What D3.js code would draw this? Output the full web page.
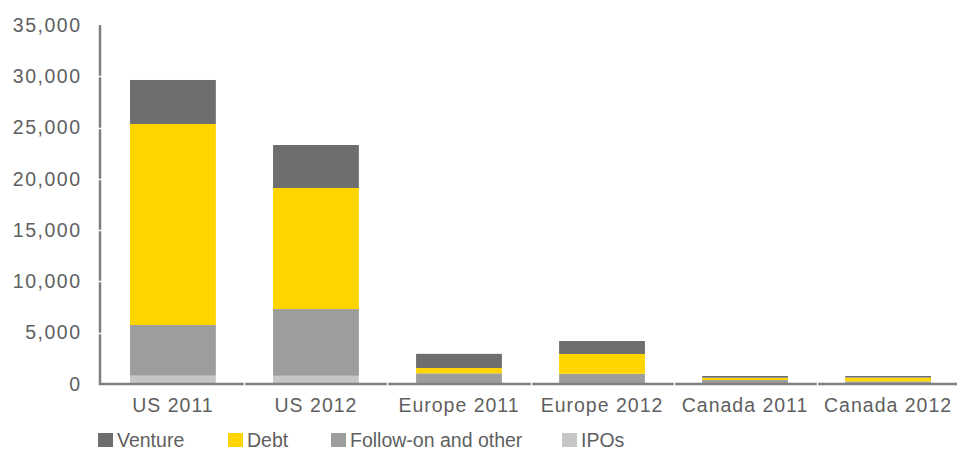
<!DOCTYPE html>
<html>
<head>
<meta charset="utf-8">
<script src="https://cdn.jsdelivr.net/npm/d3@7/dist/d3.min.js"></script>
<style>
  html, body { margin: 0; padding: 0; background: #fff; }
  svg { display: block; }
  text { font-family: "Liberation Sans", Arial, sans-serif; fill: #5f5f5f; font-size: 19.5px; }
</style>
</head>
<body>
<svg id="chart" width="957" height="450"></svg>
<script>
// Capital raised by region and year (US$ millions)
const categories = ["US 2011", "US 2012", "Europe 2011", "Europe 2012", "Canada 2011", "Canada 2012"];
const ipos      = [810, 800, 50, 40, 20, 20];
const followOn  = [4940, 6510, 990, 960, 370, 230];
const debt      = [19600, 11800, 520, 1925, 220, 380];
const venture   = [4290, 4190, 1380, 1265, 170, 150];
const yTicks    = [0, 5000, 10000, 15000, 20000, 25000, 30000, 35000];

const seriesNames  = ["IPOs", "Follow-on and other", "Debt", "Venture"];
const seriesColors = { "Venture": "#6e6e6e", "Debt": "#ffd500", "Follow-on and other": "#9d9d9c", "IPOs": "#c6c6c6" };
const legendOrder  = ["Venture", "Debt", "Follow-on and other", "IPOs"];

const rows = categories.map((c, i) => ({
  category: c,
  "IPOs": ipos[i],
  "Follow-on and other": followOn[i],
  "Debt": debt[i],
  "Venture": venture[i]
}));

const svg = d3.select("#chart");
const plotLeft = 100, plotRight = 958, plotTop = 25, plotBottom = 384;

const x = d3.scaleBand().domain(categories).range([plotLeft, plotRight + 3])
  .paddingInner(0.4).paddingOuter(0.21);
const y = d3.scaleLinear().domain([0, 35000]).range([plotBottom, plotTop]);

const stacked = d3.stack().keys(seriesNames)(rows);

svg.append("g")
  .selectAll("g")
  .data(stacked)
  .join("g")
  .attr("fill", d => seriesColors[d.key])
  .selectAll("rect")
  .data(d => d)
  .join("rect")
  .attr("x", d => x(d.data.category))
  .attr("width", x.bandwidth())
  .attr("y", d => y(d[1]))
  .attr("height", d => y(d[0]) - y(d[1]));

// Y axis: labels only, line drawn separately with tick gaps
const yAxis = d3.axisLeft(y).tickValues(yTicks).tickFormat(d3.format(",")).tickSize(0).tickPadding(18.5);
const yg = svg.append("g").attr("transform", `translate(${plotLeft},0)`).call(yAxis);
yg.select(".domain").remove();
yg.selectAll("text")
  .attr("font-family", null).attr("font-size", null)
  .style("letter-spacing", "1.5px").attr("fill", "#5f5f5f");

// X axis labels
const xAxis = d3.axisBottom(x).tickSize(0).tickPadding(14);
const xg = svg.append("g").attr("transform", `translate(0,${plotBottom})`).call(xAxis);
xg.select(".domain").remove();
xg.selectAll("text")
  .attr("font-family", null).attr("font-size", null)
  .style("letter-spacing", "1px").attr("fill", "#5f5f5f");

// Axis lines
const axisColor = "#7f7f7f";
svg.append("line").attr("x1", plotLeft).attr("x2", plotLeft).attr("y1", plotTop).attr("y2", plotBottom + 1)
  .attr("stroke", axisColor).attr("stroke-width", 2.5);
svg.append("line").attr("x1", plotLeft - 1).attr("x2", plotRight).attr("y1", plotBottom).attr("y2", plotBottom)
  .attr("stroke", axisColor).attr("stroke-width", 2.5);

// White gaps at tick positions
svg.append("g").selectAll("line")
  .data(yTicks.filter(t => t > 0 && t < 35000))
  .join("line")
  .attr("x1", plotLeft - 3).attr("x2", plotLeft + 3)
  .attr("y1", d => Math.round(y(d)) + 0.5).attr("y2", d => Math.round(y(d)) + 0.5)
  .attr("stroke", "#fff").attr("stroke-width", 1.5);

const boundaries = categories.slice(1).map(c => x(c) - x.step() * x.paddingInner() / 2);
svg.append("g").selectAll("line")
  .data(boundaries)
  .join("line")
  .attr("x1", d => Math.round(d) + 0.5).attr("x2", d => Math.round(d) + 0.5)
  .attr("y1", plotBottom - 3).attr("y2", plotBottom + 3)
  .attr("stroke", "#fff").attr("stroke-width", 1.5);

// Legend
const legendX = [98, 228, 331, 562];
const legend = svg.append("g");
legendOrder.forEach((name, i) => {
  const g = legend.append("g").attr("transform", `translate(${legendX[i]},433)`);
  g.append("rect").attr("width", 15).attr("height", 14).attr("fill", seriesColors[name]);
  g.append("text").attr("x", 19).attr("y", 13.5).text(name);
});
</script>
</body>
</html>
